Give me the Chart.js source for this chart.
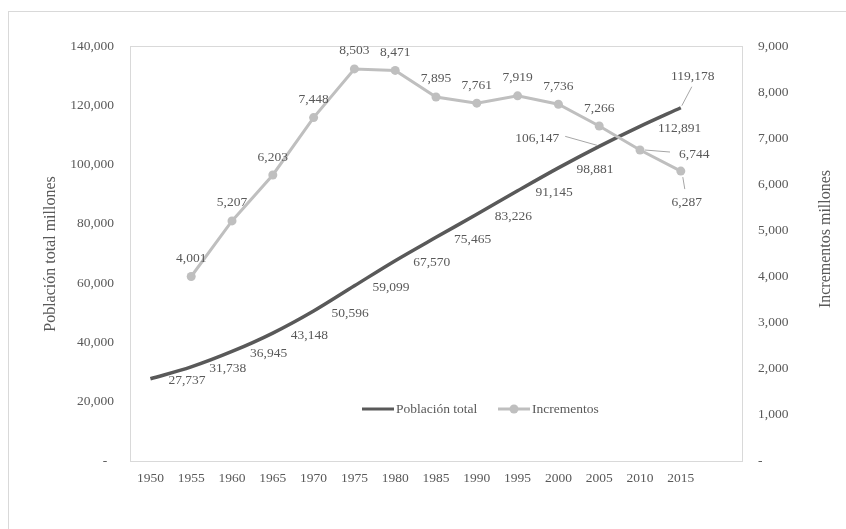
<!DOCTYPE html>
<html>
<head>
<meta charset="utf-8">
<script src="https://cdn.jsdelivr.net/npm/chart.js@4.4.0/dist/chart.umd.min.js"></script>
<style>
html, body { margin: 0; padding: 0; background: #fff; }
#wrap { position: relative; width: 846px; height: 529px; overflow: hidden; }
#frame { position: absolute; left: 8px; top: 11px; width: 860px; height: 540px; border: 1px solid #d9d9d9; }
canvas { position: absolute; left: 0; top: 0; }
</style>
</head>
<body>
<div id="wrap"><div id="frame"></div><canvas id="chart" width="846" height="529"></canvas></div>
<script>
// --- Data ---
const years = ['1950', '1955', '1960', '1965', '1970', '1975', '1980', '1985', '1990', '1995', '2000', '2005', '2010', '2015', ''];
const poblacion = [27737, 31738, 36945, 43148, 50596, 59099, 67570, 75465, 83226, 91145, 98881, 106147, 112891, 119178, null];
const incrementos = [null, 4001, 5207, 6203, 7448, 8503, 8471, 7895, 7761, 7919, 7736, 7266, 6744, 6287, null];

// where each data label sits relative to its point
const popLabelPos = ['right', 'right', 'right', 'right', 'right', 'right', 'right', 'right', 'right', 'right', 'right', 'leftLeader', 'right', 'upLeader', null];
const incLabelPos = [null, 'above', 'above', 'above', 'above', 'above', 'above', 'above', 'above', 'above', 'above', 'above', 'rightLeader', 'belowLeader', null];

const TEXT = '#595959';
const FONT = '"Liberation Serif", "Times New Roman", serif';

const fmt = v => v === 0 ? '-  ' : v.toLocaleString('en-US');

// Plot frame, axis titles, legend and data labels
const decorPlugin = {
    id: 'decor',
    beforeDatasetsDraw(chart) {
        const { ctx, chartArea: a } = chart;
        ctx.save();
        ctx.strokeStyle = '#d9d9d9';
        ctx.lineWidth = 1;
        ctx.strokeRect(a.left + 0.5, a.top + 0.5, a.right - a.left, a.bottom - a.top);
        ctx.restore();
    },
    afterDatasetsDraw(chart) {
        const { ctx } = chart;
        ctx.save();
        ctx.fillStyle = TEXT;
        ctx.font = '16px ' + FONT;
        ctx.textAlign = 'center';
        ctx.textBaseline = 'middle';

        // axis titles, both reading bottom-to-top
        [['Población total millones', 51, 254], ['Incrementos millones', 826, 239]].forEach(([t, x, y]) => {
            ctx.save();
            ctx.translate(x, y);
            ctx.rotate(-Math.PI / 2);
            ctx.fillText(t, 0, 0);
            ctx.restore();
        });

        // legend
        ctx.font = '13.5px ' + FONT;
        ctx.textAlign = 'left';
        const ly = 409;
        ctx.lineWidth = 3;
        ctx.strokeStyle = '#595959';
        ctx.beginPath(); ctx.moveTo(362, ly); ctx.lineTo(394, ly); ctx.stroke();
        ctx.fillText(chart.data.datasets[0].label, 396, ly);
        ctx.strokeStyle = '#bfbfbf';
        ctx.beginPath(); ctx.moveTo(498, ly); ctx.lineTo(530, ly); ctx.stroke();
        ctx.fillStyle = '#bfbfbf';
        ctx.beginPath(); ctx.arc(514, ly, 4.5, 0, Math.PI * 2); ctx.fill();
        ctx.fillStyle = TEXT;
        ctx.fillText(chart.data.datasets[1].label, 532, ly);

        // data labels
        const leader = (x1, y1, x2, y2) => {
            ctx.save();
            ctx.strokeStyle = '#a6a6a6';
            ctx.lineWidth = 1;
            ctx.beginPath(); ctx.moveTo(x1, y1); ctx.lineTo(x2, y2); ctx.stroke();
            ctx.restore();
        };
        const drawSet = (dsIndex, positions) => {
            const meta = chart.getDatasetMeta(dsIndex);
            const values = chart.data.datasets[dsIndex].data;
            meta.data.forEach((pt, i) => {
                const v = values[i];
                const pos = positions[i];
                if (v === null || !pos) return;
                const t = v.toLocaleString('en-US');
                const px = pt.x, py = pt.y;
                if (pos === 'right') {
                    ctx.textAlign = 'left';
                    ctx.fillText(t, px + 18, py + 2);
                } else if (pos === 'above') {
                    ctx.textAlign = 'center';
                    ctx.fillText(t, px, py - 18);
                } else if (pos === 'leftLeader') {
                    leader(px - 34, py - 10, px - 2, py - 1);
                    ctx.textAlign = 'right';
                    ctx.fillText(t, px - 40, py - 8);
                } else if (pos === 'upLeader') {
                    leader(px + 1, py - 2, px + 11, py - 21);
                    ctx.textAlign = 'center';
                    ctx.fillText(t, px + 12, py - 31);
                } else if (pos === 'rightLeader') {
                    leader(px + 5, py, px + 30, py + 2);
                    ctx.textAlign = 'left';
                    ctx.fillText(t, px + 39, py + 4);
                } else if (pos === 'belowLeader') {
                    leader(px + 2, py + 6, px + 4, py + 18);
                    ctx.textAlign = 'center';
                    ctx.fillText(t, px + 6, py + 31);
                }
            });
        };
        drawSet(0, popLabelPos);
        drawSet(1, incLabelPos);
        ctx.restore();
    }
};

const ctx = document.getElementById('chart').getContext('2d');
new Chart(ctx, {
    type: 'line',
    data: {
        labels: years,
        datasets: [{
            label: 'Población total',
            data: poblacion,
            yAxisID: 'y',
            borderColor: '#595959',
            borderWidth: 3.5,
            pointRadius: 0,
            cubicInterpolationMode: 'monotone',
            order: 2
        }, {
            label: 'Incrementos',
            data: incrementos,
            yAxisID: 'y1',
            borderColor: '#bfbfbf',
            backgroundColor: '#bfbfbf',
            borderWidth: 3,
            pointRadius: 4.5,
            pointBorderWidth: 0,
            tension: 0,
            order: 1
        }]
    },
    options: {
        responsive: false,
        animation: false,
        layout: { padding: { top: 46, left: 0, right: 0, bottom: 0 } },
        plugins: { legend: { display: false }, tooltip: { enabled: false } },
        scales: {
            x: {
                offset: true,
                grid: { display: false, drawTicks: false },
                border: { display: false },
                ticks: { color: TEXT, font: { family: FONT, size: 13.5 }, padding: 9, maxRotation: 0, autoSkip: false },
                afterFit(s) { s.height = 68; }
            },
            y: {
                position: 'left',
                min: 0, max: 140000,
                grid: { display: false, drawTicks: false },
                border: { display: false },
                ticks: { stepSize: 20000, color: TEXT, font: { family: FONT, size: 13.5 }, padding: 16, callback: fmt },
                afterFit(s) { s.width = 130; }
            },
            y1: {
                position: 'right',
                min: 0, max: 9000,
                grid: { display: false, drawTicks: false },
                border: { display: false },
                ticks: { stepSize: 1000, color: TEXT, font: { family: FONT, size: 13.5 }, padding: 16, callback: v => v === 0 ? '-' : v.toLocaleString('en-US') },
                afterFit(s) { s.width = 104; }
            }
        }
    },
    plugins: [decorPlugin]
});
</script>
</body>
</html>
